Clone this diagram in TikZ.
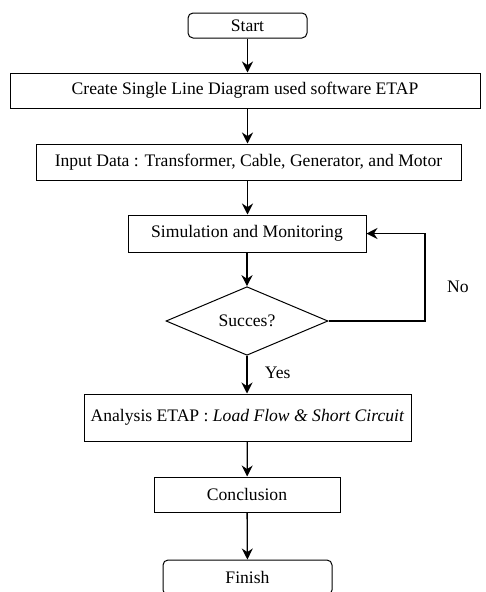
\documentclass[tikz,border=0pt]{standalone}
\usepackage{fontspec}
\setmainfont{Liberation Serif}
\usetikzlibrary{arrows.meta,shapes.geometric}
\begin{document}
\begin{tikzpicture}[x=1pt,y=-1pt,
        font=\fontsize{17.6}{20}\selectfont,
        box/.style={draw,line width=1pt,inner sep=0pt,minimum height=35pt},
        terminal/.style={box,rounded corners=5pt},
        decision/.style={draw,line width=1pt,diamond,inner sep=0pt,
            minimum width=162pt,minimum height=68pt},
        flow/.style={-{Stealth[length=11pt,width=11pt]},line width=1.3pt}]
    \useasboundingbox (0,0) rectangle (485,592);
    \draw (247.5,25.5) node[terminal,minimum width=119pt,minimum height=25pt] (start) {Start}
        (245,90.5) node[box,minimum width=470pt] (sld) {Create Single Line Diagram used software ETAP}
        (248.5,162) node[box,minimum width=425pt,minimum height=36pt] (input) {Input Data : Transformer, Cable, Generator, and Motor}
        (247,233.5) node[box,minimum width=238pt,minimum height=37pt] (sim) {Simulation and Monitoring}
        (247,321) node[decision] (succ) {Succes?}
        (247.5,417.5) node[box,minimum width=327pt,minimum height=47pt] (etap) {Analysis ETAP : \textit{Load Flow \& Short Circuit}}
        (247,494.5) node[box,minimum width=186pt] (concl) {Conclusion}
        (247.5,577.5) node[terminal,minimum width=169pt] (finish) {Finish};
    \coordinate (loop) at (425,321);
    \draw[flow] (start.south) -- (start.south |- sld.north);
    \draw[flow] (start.south |- sld.south) -- (start.south |- input.north);
    \draw[flow] (start.south |- input.south) -- (start.south |- sim.north);
    \draw[flow] (sim) -- (succ);
    \draw[flow] (succ) -- (succ |- etap.north) node[pos=0.45,right=14pt] (yes) {Yes};
    \draw[flow] (etap) -- (concl);
    \draw[flow] (concl) -- (finish);
    \draw[flow] (succ.east) -- (loop) |- (sim.east);
    \node (no) at (458,287) {No};
\end{tikzpicture}
\end{document}
